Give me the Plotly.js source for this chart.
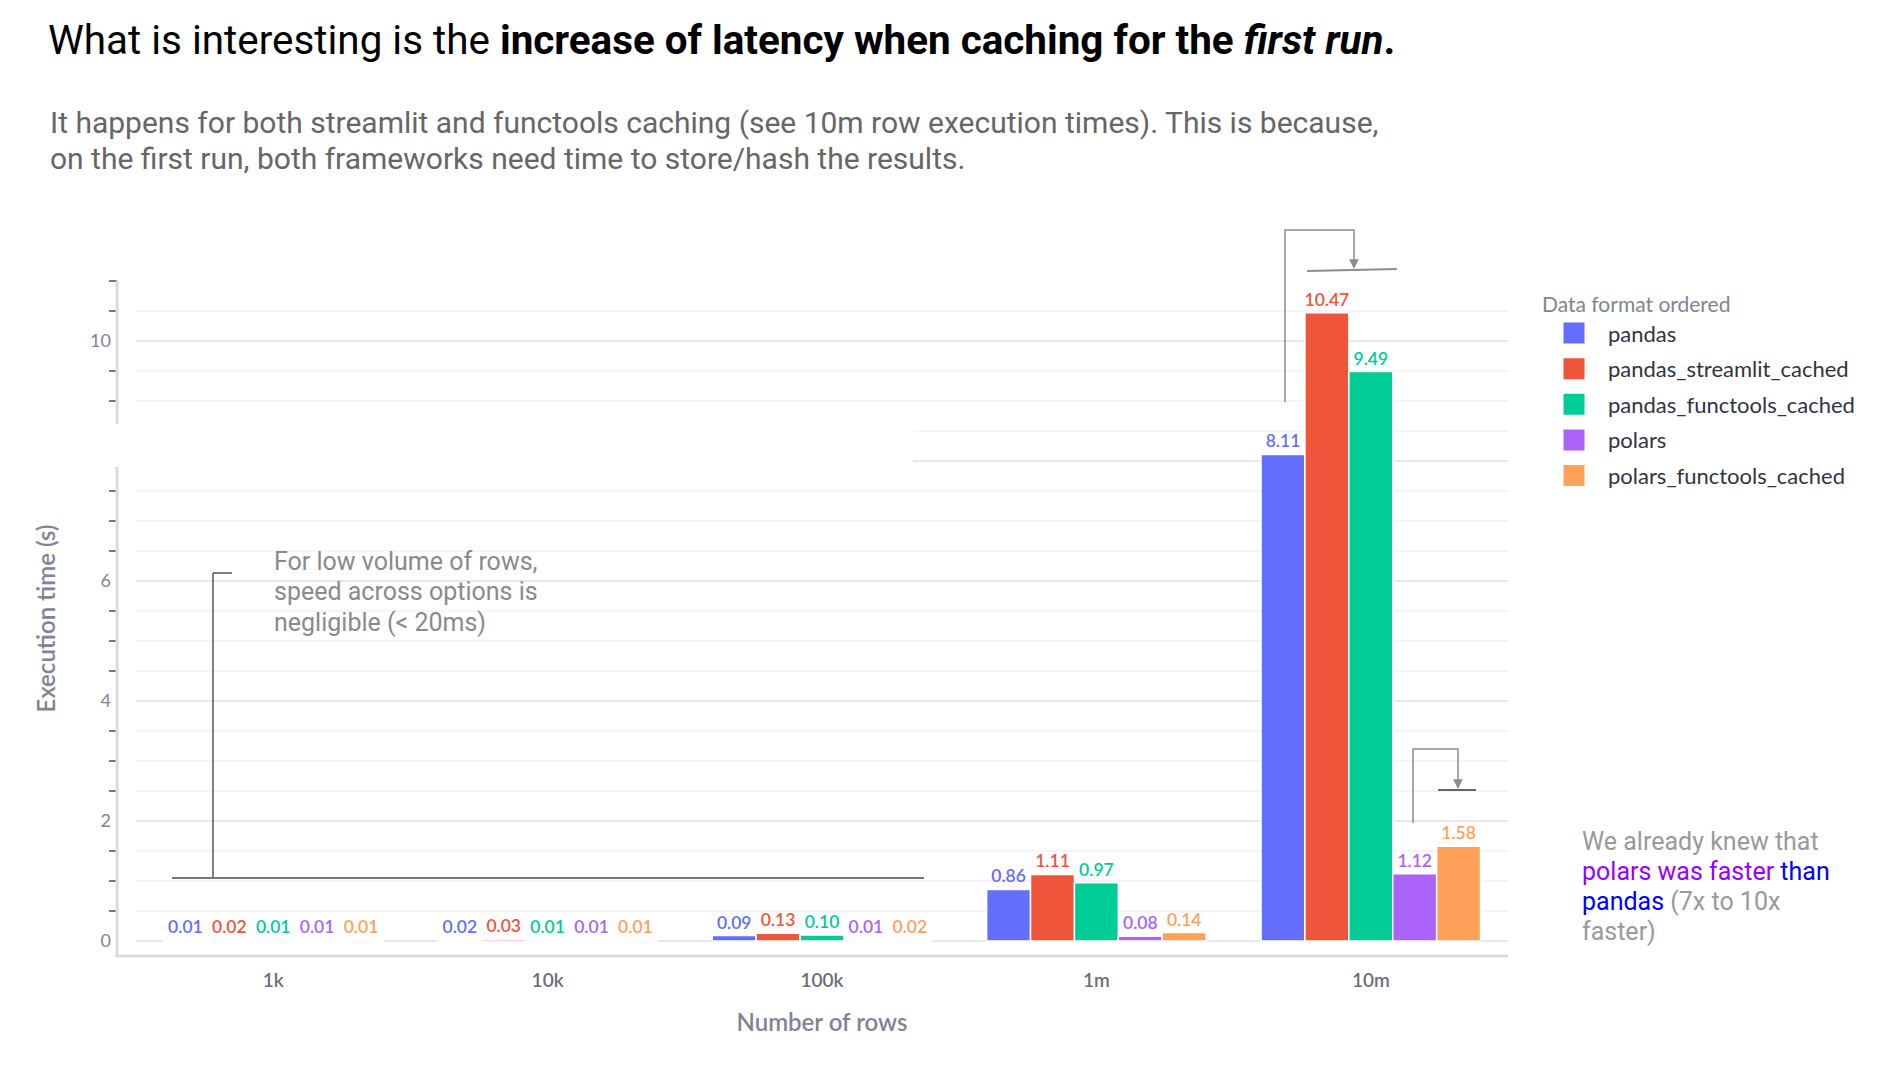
<!DOCTYPE html>
<html>
<head>
<meta charset="utf-8">
<script src="https://cdn.plot.ly/plotly-3.0.1.min.js"></script>
<style>
  html, body { margin: 0; padding: 0; background: #ffffff; }
  #chart { width: 1884px; height: 1066px; }
</style>
</head>
<body>
<div id="chart"></div>
<script>
// ---- data ----
const categories = ['1k', '10k', '100k', '1m', '10m'];
const seriesNames = ['pandas', 'pandas_streamlit_cached', 'pandas_functools_cached', 'polars', 'polars_functools_cached'];
const pandas = [0.01, 0.02, 0.09, 0.86, 8.11];
const pandasStreamlitCached = [0.02, 0.03, 0.13, 1.11, 10.47];
const pandasFunctoolsCached = [0.01, 0.01, 0.10, 0.97, 9.49];
const polars = [0.01, 0.01, 0.01, 0.08, 1.12];
const polarsFunctoolsCached = [0.01, 0.01, 0.02, 0.14, 1.58];
const yTickStep = 2;
const yMinorStep = 0.5;

// ---- styling ----
const W = 1884, H = 1066;
const px = x => x / W;
const py = y => 1 - y / H;
const colors = ['#636EFA', '#EF553B', '#00CC96', '#AB63FA', '#FFA15A'];
const seriesValues = [pandas, pandasStreamlitCached, pandasFunctoolsCached, polars, polarsFunctoolsCached];
const chartFont = 'Lato, "Source Sans Pro", "Open Sans", sans-serif';
const slideFont = 'Roboto, "Open Sans", sans-serif';

const barTraces = seriesNames.map((name, i) => ({
  type: 'bar',
  name: name,
  legendgroup: name,
  showlegend: false,
  x: categories,
  y: seriesValues[i],
  marker: { color: colors[i], line: { color: '#ffffff', width: 1.5 } },
  text: seriesValues[i].map(v => v.toFixed(2)),
  textposition: 'outside',
  textfont: { family: chartFont, size: 17.5, weight: 600, color: colors[i] },
  constraintext: 'none',
  cliponaxis: false,
  hoverinfo: 'x+y+name'
}));

// legend entries (larger square swatches, linked to the bars by legendgroup)
const legendTraces = seriesNames.map((name, i) => ({
  type: 'scatter',
  mode: 'markers',
  name: name,
  legendgroup: name,
  showlegend: true,
  x: [null],
  y: [null],
  marker: { symbol: 'square', size: 16, color: colors[i], line: { color: colors[i], width: 5 } },
  hoverinfo: 'skip'
}));

const axisGray = '#d9dbe0';
const lineGray = '#8c8c8c';

const shapes = [
  // y axis line
  { type: 'line', xref: 'paper', yref: 'paper', x0: px(117), x1: px(117), y0: py(281), y1: py(957), line: { color: axisGray, width: 3 }, layer: 'above' },
  // x axis line
  { type: 'line', xref: 'paper', yref: 'paper', x0: px(116), x1: px(1508), y0: py(956), y1: py(956), line: { color: axisGray, width: 3 }, layer: 'above' },
  // white gap in the y axis (as in the reference)
  { type: 'rect', xref: 'paper', yref: 'paper', x0: px(60), x1: px(913), y0: py(424), y1: py(467), fillcolor: '#ffffff', line: { width: 0 }, layer: 'above' },
  // bracket for low volume note
  { type: 'line', xref: 'paper', yref: 'paper', x0: px(213), x1: px(213), y0: py(573), y1: py(878), line: { color: '#555555', width: 1.5 }, layer: 'above' },
  { type: 'line', xref: 'paper', yref: 'paper', x0: px(213), x1: px(232), y0: py(573), y1: py(573), line: { color: '#555555', width: 1.5 }, layer: 'above' },
  { type: 'line', xref: 'paper', yref: 'paper', x0: px(172), x1: px(924), y0: py(878), y1: py(878), line: { color: '#777777', width: 2 }, layer: 'above' },
  // arrow 1 (10m streamlit)
  { type: 'path', xref: 'paper', yref: 'paper', path: `M ${px(1285)} ${py(402)} L ${px(1285)} ${py(230)} L ${px(1354)} ${py(230)} L ${px(1354)} ${py(262)}`, line: { color: lineGray, width: 1.5 }, layer: 'above' },
  { type: 'line', xref: 'paper', yref: 'paper', x0: px(1307), x1: px(1397), y0: py(271), y1: py(269), line: { color: lineGray, width: 2 }, layer: 'above' },
  // arrow 2 (10m polars)
  { type: 'path', xref: 'paper', yref: 'paper', path: `M ${px(1413)} ${py(823)} L ${px(1413)} ${py(749)} L ${px(1458)} ${py(749)} L ${px(1458)} ${py(782)}`, line: { color: lineGray, width: 1.5 }, layer: 'above' },
  { type: 'line', xref: 'paper', yref: 'paper', x0: px(1438), x1: px(1476), y0: py(790), y1: py(790), line: { color: '#666666', width: 2 }, layer: 'above' }
];

function textLine(text, x, y, size, color) {
  return { xref: 'paper', yref: 'paper', x: px(x), y: py(y), xanchor: 'left', yanchor: 'middle', align: 'left', showarrow: false,
    text: text, font: { family: slideFont, size: size, color: color } };
}

const subtitleLines = [
  'It happens for both streamlit and functools caching (see 10m row execution times). This is because,',
  'on the first run, both frameworks need time to store/hash the results.'
];
const lowVolumeLines = ['For low volume of rows,', 'speed across options is', 'negligible (< 20ms)'];
const polarsLines = [
  'We already knew that',
  '<span style="color:#9900ff">polars was faster</span> <span style="color:#0000ff">than</span>',
  '<span style="color:#0000ff">pandas</span> (7x to 10x',
  'faster)'
];

const annotations = []
  .concat(subtitleLines.map((t, i) => textLine(t, 48, 122 + i * 36.5, 30, '#666666')))
  .concat(lowVolumeLines.map((t, i) => textLine(t, 272, 561 + i * 30.5, 25, '#8a8a8a')))
  .concat(polarsLines.map((t, i) => textLine(t, 1580, 841 + i * 30, 25, '#999999')))
  .concat([
    // arrowheads
    { xref: 'paper', yref: 'paper', x: px(1354), y: py(269), ax: px(1354), ay: py(258), axref: 'paper', ayref: 'paper', showarrow: true, arrowhead: 2, arrowsize: 1.3, arrowwidth: 1.5, arrowcolor: lineGray, text: '' },
    { xref: 'paper', yref: 'paper', x: px(1458), y: py(789), ax: px(1458), ay: py(778), axref: 'paper', ayref: 'paper', showarrow: true, arrowhead: 2, arrowsize: 1.3, arrowwidth: 1.5, arrowcolor: lineGray, text: '' }
  ]);

const layout = {
  width: W, height: H,
  margin: { l: 0, r: 0, t: 0, b: 0, pad: 0 },
  paper_bgcolor: '#ffffff', plot_bgcolor: '#ffffff',
  font: { family: chartFont, color: '#808495' },
  title: {
    text: 'What is interesting is the <b>increase of latency when caching for the <i>first run</i>.</b>',
    x: px(48), xanchor: 'left', xref: 'paper', y: py(40), yanchor: 'middle', yref: 'paper',
    font: { family: slideFont, size: 40.4, color: '#000000' }
  },
  barmode: 'group',
  bargap: 0.2,
  bargroupgap: 0,
  showlegend: true,
  legend: {
    x: px(1540), y: py(285), xanchor: 'left', yanchor: 'top',
    title: { text: 'Data format ordered', side: 'top', font: { family: chartFont, size: 21, color: '#808495' } },
    font: { family: chartFont, size: 22, color: '#31333F' },
    itemwidth: 58, itemsizing: 'trace',
    bgcolor: 'rgba(0,0,0,0)', borderwidth: 0, tracegroupgap: 4
  },
  xaxis: {
    domain: [px(136), px(1508)],
    anchor: 'y',
    type: 'category',
    showline: false, showgrid: false, zeroline: false,
    ticks: 'outside', ticklen: 7, tickcolor: 'rgba(0,0,0,0)',
    tickfont: { family: chartFont, size: 19, weight: 600, color: '#6b6e7a' },
    title: { text: 'Number of rows', standoff: 24, font: { family: chartFont, size: 24, weight: 600, color: '#808495' } },
    automargin: false, fixedrange: true
  },
  yaxis: {
    domain: [py(956), py(281)],
    range: [-0.25, 11],
    anchor: 'free', position: px(117),
    showline: false, zeroline: false,
    tickmode: 'linear', tick0: 0, dtick: yTickStep,
    ticks: '', ticklabelstandoff: 6,
    tickfont: { family: chartFont, size: 18, color: '#808495' },
    showgrid: true, gridcolor: '#e6e8ee', gridwidth: 1.5,
    minor: { tick0: 0, dtick: yMinorStep, ticks: 'outside', ticklen: 8, tickwidth: 2, tickcolor: '#777980', showgrid: true, gridcolor: '#f4f5f8', gridwidth: 1.5 },
    title: { text: 'Execution time (s)', standoff: 26, font: { family: chartFont, size: 24, weight: 600, color: '#808495' } },
    automargin: false, fixedrange: true
  },
  shapes: shapes,
  annotations: annotations
};

Plotly.newPlot('chart', barTraces.concat(legendTraces), layout, { displayModeBar: false, staticPlot: true });
</script>
</body>
</html>
